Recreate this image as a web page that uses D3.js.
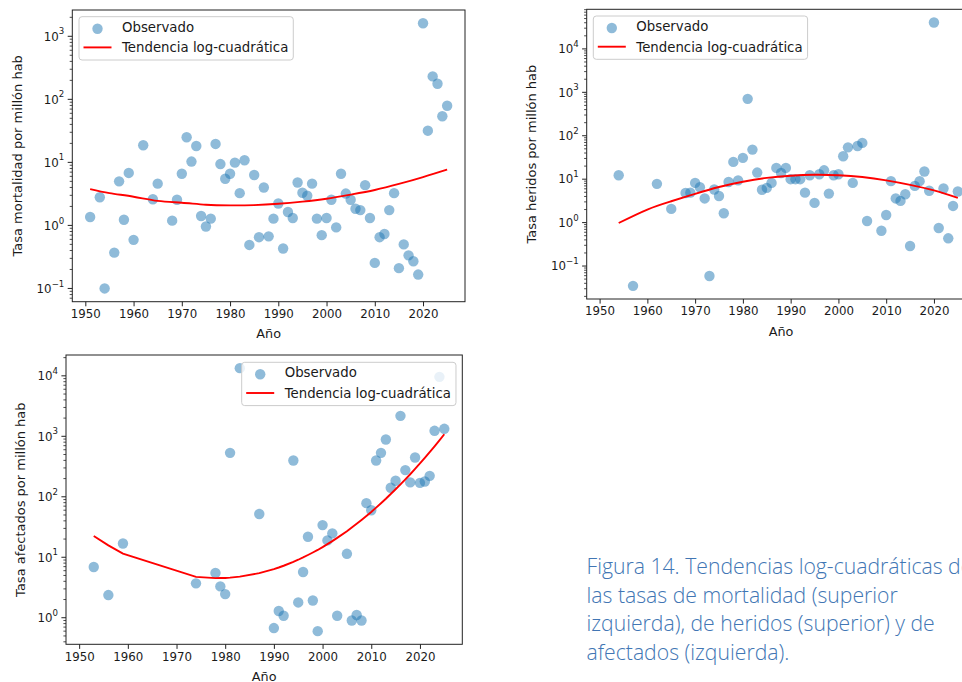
<!DOCTYPE html>
<html>
<head>
<meta charset="utf-8">
<script src="https://cdn.jsdelivr.net/npm/d3@7"></script>
<style>
  body { margin: 0; background: #fff; }
  svg { display: block; }
</style>
</head>
<body>
<svg id="fig" width="962" height="682"></svg>
<script>
// ---- Tasa de mortalidad por millón de habitantes ----
const mortYears = [1951,1953,1954,1956,1957,1958,1959,1960,1962,1964,1965,
  1968,1969,1970,1971,1972,1973,1974,1975,1976,1977,1978,1979,1980,1981,1982,1983,1984,1985,1986,1987,1988,1989,
  1990,1991,1992,1993,1994,1995,1996,1997,1998,1999,2000,2001,2002,2003,2004,2005,2006,2007,2008,2009,
  2010,2011,2012,2013,2014,2015,2016,2017,2018,2019,2020,2021,2022,2023,2024,2025];
const mortRates = [1.36,2.8,0.10,0.37,5.0,1.23,6.8,0.59,18.7,2.6,4.6,
  1.19,2.55,6.6,25,10.3,18.2,1.41,0.96,1.28,19.6,9.4,5.5,6.6,9.9,3.25,10.8,0.49,6.3,0.65,4.0,0.67,1.28,
  2.23,0.43,1.63,1.31,4.8,3.3,2.95,4.6,1.28,0.70,1.31,2.55,0.93,6.6,3.2,2.55,1.84,1.75,4.35,1.31,
  0.254,0.65,0.73,1.75,3.25,0.21,0.50,0.335,0.27,0.166,1610,31.8,231,177,54,79];
const mortTrendYears = [1951,1955,1960,1965,1970,1975,1980,1985,1990,1995,2000,2005,2010,2015,2020,2025];
const mortTrend = [3.77,3.25,2.85,2.45,2.29,2.13,2.08,2.10,2.20,2.38,2.65,3.08,3.65,4.55,5.85,7.69];

// ---- Tasa de heridos por millón de habitantes ----
const herYears = [1954,1957,1962,1965,
  1968,1969,1970,1971,1972,1973,1974,1975,1976,1977,1978,1979,1980,1981,1982,1983,1984,1985,1986,1987,1988,1989,
  1990,1991,1992,1993,1994,1995,1996,1997,1998,1999,2000,2001,2002,2003,2004,2005,2006,
  2009,2010,2011,2012,2013,2014,2015,2016,2017,2018,2019,2020,2021,2022,2023,2024,2025];
const herRates = [12.3,0.035,7.8,2.07,
  4.8,4.9,8.2,6.5,3.6,0.059,5.8,4.1,1.64,8.6,25,9.4,31,707,48,14.2,5.7,6.3,8.2,18.2,13.9,18.2,
  10,10,10,4.9,12.3,2.84,13,16,4.66,12.3,13,33.8,54,8.2,58,68.5,1.09,
  0.65,1.5,9.0,3.6,3.16,4.5,0.29,7.0,9.0,15,5.4,40600,0.75,6.1,0.435,2.42,5.2];
const herTrendYears = [1954,1960,1965,1970,1975,1980,1985,1990,1995,2000,2005,2010,2015,2020,2025];
const herTrend = [0.98,2.0,3.1,4.6,6.6,8.7,10.7,12.0,12.6,12.3,11.2,9.4,7.4,5.5,3.7];

// ---- Tasa de afectados por millón de habitantes ----
const afeYears = [1953,1956,1959,1974,1978,1979,1980,1981,1983,1987,1990,1991,1992,1994,1995,1996,1997,1998,1999,
  2000,2001,2002,2003,2005,2006,2007,2008,2009,2010,2011,2012,2013,2014,2015,2016,2017,2018,2019,
  2020,2021,2022,2023,2024,2025];
const afeRates = [6.9,2.37,16.9,3.7,5.5,3.3,2.46,533,13400,52,0.675,1.29,1.08,398,1.79,5.7,21.8,1.93,0.60,
  34,19,24.8,1.08,11.4,0.90,1.11,0.90,78.5,60,398,533,887,141,184,2180,276,173,447,
  170,179,222,1233,9620,1330];
const afeTrend = [22.5,15.7,11.5,4.73,4.52,4.53,4.55,4.60,4.78,5.46,6.37,6.77,7.24,8.39,9.10,9.93,10.9,12.0,13.2,
  14.7,16.5,18.5,20.9,27.0,31.0,35.7,41.3,48.1,56.2,66.2,78.2,92.7,111,133,160,194,236,289,
  356,440,547,684,857,1081];

const xLabel = "Año";
const legendLabels = ["Observado", "Tendencia log-cuadrática"];
const captionLines = [
  "Figura 14. Tendencias log-cuadráticas de",
  "las tasas de mortalidad (superior",
  "izquierda), de heridos (superior) y de",
  "afectados (izquierda)."
];

const svg = d3.select("#fig");
const FONT = "DejaVu Sans, sans-serif";
const TXT = "#1a1a1a";
const POINT = "#1f77b4";

// x range shared by the three panels (5 % margin around the mortality years)
const xSpan = d3.extent(mortYears);
const xPad = (xSpan[1] - xSpan[0]) * 0.05;
const xDomain = [xSpan[0] - xPad, xSpan[1] + xPad];

function logDomain(values) {
  const [lo, hi] = d3.extent(values).map(Math.log10);
  const pad = (hi - lo) * 0.05;
  return [Math.pow(10, lo - pad), Math.pow(10, hi + pad)];
}

function drawPanel(cfg) {
  const g = svg.append("g");
  const { left, right, top, bottom } = cfg.frame;

  if (cfg.background) {
    g.append("rect").attr("x", cfg.background[0]).attr("y", cfg.background[1])
      .attr("width", cfg.background[2]).attr("height", cfg.background[3]).attr("fill", "#fff");
  }

  const x = d3.scaleLinear().domain(xDomain).range([left, right]);
  const y = d3.scaleLog().domain(logDomain(cfg.values)).range([bottom, top]);

  const clipId = "clip-" + cfg.id;
  g.append("clipPath").attr("id", clipId).append("rect")
    .attr("x", left).attr("y", top).attr("width", right - left).attr("height", bottom - top);

  const plot = g.append("g").attr("clip-path", `url(#${clipId})`);

  // observed points
  plot.append("g").selectAll("circle")
    .data(cfg.years.map((yr, i) => [yr, cfg.values[i]]))
    .join("circle")
    .attr("cx", d => x(d[0])).attr("cy", d => y(d[1]))
    .attr("r", 5.2)
    .attr("fill", POINT).attr("fill-opacity", 0.5);

  // log-quadratic trend
  const line = d3.line().x(d => x(d[0])).y(d => y(d[1])).curve(cfg.curve);
  plot.append("path")
    .datum(cfg.trendYears.map((yr, i) => [yr, cfg.trend[i]]))
    .attr("d", line)
    .attr("fill", "none").attr("stroke", "#ff0000").attr("stroke-width", 1.9);

  // x axis
  const xAxis = d3.axisBottom(x).tickValues(d3.range(1950, 2030, 10))
    .tickFormat(d3.format("d")).tickSize(4.6).tickPadding(3.5);
  const gx = g.append("g").attr("transform", `translate(0,${bottom})`).call(xAxis);
  gx.select(".domain").remove();
  gx.selectAll("line").attr("stroke", "#222").attr("stroke-width", 1);
  gx.selectAll("text").attr("font-family", FONT).attr("font-size", 11.8).attr("fill", TXT);

  // y axis with power-of-ten labels and minor ticks
  const [d0, d1] = y.domain();
  const e0 = Math.floor(Math.log10(d0)), e1 = Math.ceil(Math.log10(d1));
  const majors = [], minors = [];
  for (let e = e0; e <= e1; e++) {
    const p = Math.pow(10, e);
    if (p >= d0 && p <= d1) majors.push(e);
    for (let m = 2; m <= 9; m++) {
      const v = m * p;
      if (v >= d0 && v <= d1) minors.push(v);
    }
  }
  const gy = g.append("g");
  gy.selectAll("line.minor").data(minors).join("line").attr("class", "minor")
    .attr("x1", left - 2.6).attr("x2", left)
    .attr("y1", d => y(d)).attr("y2", d => y(d))
    .attr("stroke", "#222").attr("stroke-width", 0.8);
  gy.selectAll("line.major").data(majors).join("line").attr("class", "major")
    .attr("x1", left - 4.6).attr("x2", left)
    .attr("y1", d => y(Math.pow(10, d))).attr("y2", d => y(Math.pow(10, d)))
    .attr("stroke", "#222").attr("stroke-width", 1);
  const lab = gy.selectAll("text").data(majors).join("text")
    .attr("x", left - 8).attr("y", d => y(Math.pow(10, d)) + 4.3)
    .attr("text-anchor", "end")
    .attr("font-family", FONT).attr("font-size", 11.8).attr("fill", TXT);
  lab.append("tspan").text("10");
  lab.append("tspan").attr("dy", -6.2).attr("font-size", 8.6)
    .text(d => d < 0 ? "\u2212" + String(-d) : String(d));

  // frame
  g.append("rect").attr("x", left).attr("y", top)
    .attr("width", right - left).attr("height", bottom - top)
    .attr("fill", "none").attr("stroke", "#222").attr("stroke-width", 1);

  // axis titles
  g.append("text").attr("x", (left + right) / 2).attr("y", cfg.xLabelY)
    .attr("text-anchor", "middle").attr("font-family", FONT).attr("font-size", 12.8)
    .attr("fill", TXT).text(xLabel);
  g.append("text")
    .attr("transform", `translate(${cfg.yLabelX},${(top + bottom) / 2}) rotate(-90)`)
    .attr("text-anchor", "middle").attr("dominant-baseline", "central")
    .attr("font-family", FONT).attr("font-size", 13)
    .attr("fill", TXT).text(cfg.yLabel);

  // legend
  const [bx, by] = cfg.legend;
  const lg = g.append("g").attr("transform", `translate(${bx},${by})`);
  const box = lg.append("rect").attr("rx", 3).attr("ry", 3)
    .attr("fill", "#fff").attr("fill-opacity", 0.8)
    .attr("stroke", "#cccccc").attr("stroke-width", 1);
  lg.append("circle").attr("cx", 18.5).attr("cy", 12).attr("r", 5.2)
    .attr("fill", POINT).attr("fill-opacity", 0.5);
  lg.append("line").attr("x1", 4.5).attr("x2", 32.5).attr("y1", 30.7).attr("y2", 30.7)
    .attr("stroke", "#ff0000").attr("stroke-width", 1.9);
  const t1 = lg.append("text").attr("x", 43).attr("y", 15)
    .attr("font-family", FONT).attr("font-size", 13.3).attr("fill", TXT).text(legendLabels[0]);
  const t2 = lg.append("text").attr("x", 43).attr("y", 35.6)
    .attr("font-family", FONT).attr("font-size", 13.3).attr("fill", TXT).text(legendLabels[1]);
  const w = Math.max(t1.node().getComputedTextLength(), t2.node().getComputedTextLength());
  box.attr("x", 0).attr("y", 0).attr("width", 43 + w + 5).attr("height", 43.3);
}

drawPanel({
  id: "mort", years: mortYears, values: mortRates,
  trendYears: mortTrendYears, trend: mortTrend, curve: d3.curveNatural,
  frame: { left: 72.3, right: 465, top: 10, bottom: 301.7 },
  yLabel: "Tasa mortalidad por millón hab", yLabelX: 17.5, xLabelY: 338,
  legend: [79, 16.7]
});

drawPanel({
  id: "her", years: herYears, values: herRates,
  trendYears: herTrendYears, trend: herTrend, curve: d3.curveNatural,
  frame: { left: 586.7, right: 975.5, top: 9.3, bottom: 299 },
  yLabel: "Tasa heridos por millón hab", yLabelX: 531.7, xLabelY: 336,
  legend: [593.3, 16]
});

drawPanel({
  id: "afe", years: afeYears, values: afeRates,
  trendYears: afeYears, trend: afeTrend, curve: d3.curveLinear,
  frame: { left: 66, right: 462.3, top: 355, bottom: 644.3 },
  background: [0, 341.5, 500, 341],
  yLabel: "Tasa afectados por millón hab", yLabelX: 20.5, xLabelY: 681,
  legend: [241.7, 362.3]
});

// caption
const cap = svg.append("text")
  .attr("font-family", "Open Sans, sans-serif").attr("font-weight", 300)
  .attr("font-size", 21.2).attr("fill", "#4176b4");
captionLines.forEach((s, i) => {
  cap.append("tspan").attr("x", 586.5).attr("y", 574 + i * 28.7).text(s);
});
</script>
</body>
</html>
